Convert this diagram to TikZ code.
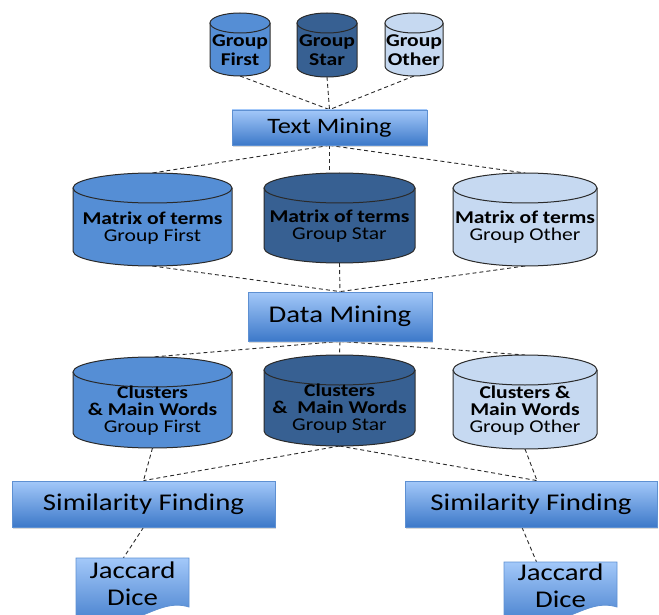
\documentclass[tikz,border=0pt]{standalone}
\usepackage{fontspec}
\setmainfont{Carlito}[FakeStretch=1.2]
\usetikzlibrary{calc,shadows,backgrounds}
\definecolor{cfirst}{HTML}{558ED5}
\definecolor{cstar}{HTML}{376092}
\definecolor{cother}{HTML}{C6D9F1}
\definecolor{boxtop}{HTML}{A3C8F9}
\definecolor{boxbot}{HTML}{3D79C9}
\definecolor{boxline}{HTML}{5E90D2}
\definecolor{lineg}{HTML}{2A2A2A}

\tikzset{
 cylline/.style={draw=lineg, line width=1pt},
 cyltext/.style={align=center, inner sep=0pt, font=\fontsize{18}{17}\selectfont, text=black},
 toptext/.style={align=center, inner sep=0pt, font=\fontsize{18}{18.5}\selectfont\bfseries, text=black},
 procbox/.style={draw=boxline, line width=0.8pt, top color=boxtop, bottom color=boxbot, inner sep=0pt,
   drop shadow={shadow xshift=1pt, shadow yshift=-2pt, opacity=0.3}},
 procfont/.style={font=\fontsize{#1}{#1}\selectfont},
 docfill/.style={draw=boxline, line width=0.8pt, top color=boxtop, bottom color=boxbot},
 doctext/.style={align=center, inner sep=0pt, minimum width=113pt, font=\fontsize{24}{27}\selectfont},
 conn/.style={draw=lineg, line width=0.9pt, dash pattern=on 4pt off 3pt},
}

% name, cx, ytop, ybot, rx, ry, fill
\newcommand\dbcyl[7]{%
  \fill[#7] (#2-#5,#3+#6) rectangle (#2+#5,#4-#6);
  \fill[#7] (#2,#4-#6) ellipse [x radius=#5pt, y radius=#6pt];
  \draw[cylline] (#2-#5,#3+#6) -- (#2-#5,#4-#6)
     arc[start angle=180, end angle=360, x radius=#5pt, y radius=#6pt] -- (#2+#5,#3+#6);
  \filldraw[cylline, fill=#7] (#2,#3+#6) ellipse [x radius=#5pt, y radius=#6pt];
  \coordinate (#1-n) at (#2,#3);
  \coordinate (#1-s) at (#2,#4);
}

\begin{document}
\begin{tikzpicture}[x=1pt, y=-1pt]
\useasboundingbox (0,0) rectangle (659,615);

% top cylinders
\dbcyl{tf}{240}{13}{76}{30}{10}{cfirst}
\dbcyl{ts}{327}{13}{77}{30}{10}{cstar}
\dbcyl{to}{414}{13}{76}{29}{10}{cother}
\node[toptext] (tft) at (240,50) {Group\\First};
\node[toptext] (tst) at (327,50) {Group\\Star};
\node[toptext] (tot) at (414,50) {Group\\Other};

% Text Mining
\node[procbox, minimum width=195pt, minimum height=35pt, procfont=22] (tm) at (329.5,127.5) {Text Mining};

% matrix cylinders
\dbcyl{mf}{152.5}{173}{266}{79.5}{15}{cfirst}
\dbcyl{ms}{339.5}{173}{263}{75.5}{15}{cstar}
\dbcyl{mo}{525}{173}{266}{72}{15}{cother}
\node[cyltext] (mft) at (152.5,228) {\textbf{Matrix of terms}\\Group First};
\node[cyltext] (mst) at (339.5,226) {\textbf{Matrix of terms}\\Group Star};
\node[cyltext] (mot) at (525,227) {\textbf{Matrix of terms}\\Group Other};

% Data Mining
\node[procbox, minimum width=184pt, minimum height=49pt, procfont=24] (dm) at (340,316.5) {Data Mining};

% cluster cylinders
\dbcyl{cf}{152.5}{357}{448}{79.5}{15}{cfirst}
\dbcyl{cs}{339.5}{355}{446}{75.5}{15}{cstar}
\dbcyl{co}{525}{355}{449}{72}{15}{cother}
\node[cyltext] (cft) at (152.5,410.5) {\textbf{Clusters}\\\textbf{\& Main Words}\\Group First};
\node[cyltext] (cst) at (339.5,408.5) {\textbf{Clusters}\\\textbf{\& \ Main Words}\\Group Star};
\node[cyltext] (cot) at (525,411) {\textbf{Clusters \&}\\\textbf{Main Words}\\Group Other};

% Similarity Finding
\node[procbox, minimum width=263pt, minimum height=46pt, procfont=24] (sl) at (143.5,504) {Similarity Finding};
\node[procbox, minimum width=252pt, minimum height=46pt, procfont=24] (sr) at (531,504) {Similarity Finding};

% Jaccard Dice documents
\path[docfill] (76,558) -- (189,558) -- (189,607)
   .. controls (170,601) and (155,611) .. (135,618) -- (76,630) -- cycle;
\path[docfill] (504,562) -- (617,562) -- (617,607)
   .. controls (598,601) and (583,611) .. (563,618) -- (504,630) -- cycle;
\node[doctext] (jl) at (132.5,583.5) {Jaccard\\Dice};
\node[doctext] (jr) at (560.5,586) {Jaccard\\Dice};

% connectors
\begin{scope}[on background layer]
\draw[conn] (tf-s) -- (tm.north);
\draw[conn] (ts-s) -- (tm.north);
\draw[conn] (to-s) -- (tm.north);
\draw[conn] (tm.south) -- (mf-n);
\draw[conn] (tm.south) -- (tm.south |- ms-n);
\draw[conn] (tm.south) -- (mo-n);
\draw[conn] (mf-s) -- (dm.north);
\draw[conn] (ms-s) -- (dm.north);
\draw[conn] (mo-s) -- (dm.north);
\draw[conn] (dm.south) -- (cf-n);
\draw[conn] (dm.south) -- (cs-n);
\draw[conn] (dm.south) -- (co-n);
\draw[conn] (cf-s) -- (sl.north);
\draw[conn] (cs-s) -- (sl.north);
\draw[conn] (cs-s) -- ($(sr.north)+(6,0)$);
\draw[conn] (co-s) -- ($(sr.north)+(6,0)$);
\draw[conn] (sl.south) -- ($(jl.north)+(-10,-2)$);
\draw[conn] ($(sr.south)+(-9,0)$) -- ($(jr.north)+(-24,-2)$);
\end{scope}
\end{tikzpicture}
\end{document}
